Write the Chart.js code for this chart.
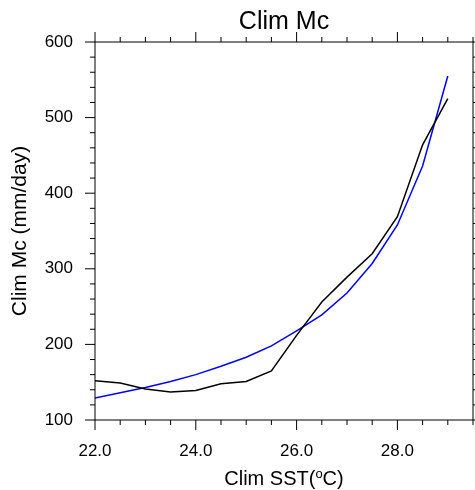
<!DOCTYPE html>
<html>
<head>
<meta charset="utf-8">
<title>Clim Mc</title>
<script src="https://cdn.jsdelivr.net/npm/chart.js@4.4.1/dist/chart.umd.min.js"></script>
<style>
  body { margin: 0; background: #fff; }
  canvas { display: block; }
</style>
</head>
<body>
<canvas id="mcChart" width="475" height="490"></canvas>
<script>
// SST bins (deg C)
const sst = [22.0, 22.5, 23.0, 23.5, 24.0, 24.5, 25.0, 25.5, 26.0, 26.5, 27.0, 27.5, 28.0, 28.5, 29.0];
// black line: binned Mc
const mcBinned = [152, 149, 141, 137, 139, 148, 151, 165, 212, 256, 289, 320, 369, 464, 525];
// blue line: fitted curve
const mcFit = [129, 136, 143, 151, 160, 171, 183, 198, 218, 239, 268, 307, 358, 436, 555];

const xMajor = [22, 24, 26, 28];
const yMajor = [100, 200, 300, 400, 500, 600];

const fontFamily = "'Liberation Sans', Helvetica, Arial, sans-serif";

function toPoints(ys) {
  return sst.map(function (x, i) { return { x: x, y: ys[i] }; });
}

// NCL style frame with outward major/minor tick marks on all 4 sides,
// plus the title and the x axis title (which has a superscript "o")
const frameTicks = {
  id: 'frameTicks',
  afterDraw: function (chart) {
    const ctx = chart.ctx;
    const a = chart.chartArea;
    const xs = chart.scales.x;
    const ys = chart.scales.y;
    const cx = (a.left + a.right) / 2;
    ctx.save();
    ctx.strokeStyle = '#000';
    ctx.lineWidth = 1;
    ctx.strokeRect(a.left, a.top, a.right - a.left, a.bottom - a.top);
    ctx.beginPath();
    for (let v = 22; v <= 29.5 + 1e-6; v += 0.5) {
      const len = xMajor.indexOf(v) >= 0 ? 10 : 5;
      const px = xs.getPixelForValue(v);
      ctx.moveTo(px, a.bottom); ctx.lineTo(px, a.bottom + len);
      ctx.moveTo(px, a.top); ctx.lineTo(px, a.top - len);
    }
    for (let v = 100; v <= 600; v += 20) {
      const len = yMajor.indexOf(v) >= 0 ? 10 : 5;
      const py = ys.getPixelForValue(v);
      ctx.moveTo(a.left, py); ctx.lineTo(a.left - len, py);
      ctx.moveTo(a.right, py); ctx.lineTo(a.right + len, py);
    }
    ctx.stroke();

    // title
    ctx.fillStyle = '#000';
    ctx.textAlign = 'center';
    ctx.textBaseline = 'alphabetic';
    ctx.font = '25px ' + fontFamily;
    ctx.fillText('Clim Mc', cx, 28.5);

    // x axis title: Clim SST(oC) with raised o
    const big = '20px ' + fontFamily;
    const small = '13px ' + fontFamily;
    const p1 = 'Clim SST(', p2 = 'o', p3 = 'C)';
    ctx.font = big;
    const w1 = ctx.measureText(p1).width, w3 = ctx.measureText(p3).width;
    ctx.font = small;
    const w2 = ctx.measureText(p2).width;
    let x0 = cx - (w1 + w2 + w3) / 2;
    const base = a.bottom + 64.5;
    ctx.textAlign = 'left';
    ctx.font = big;
    ctx.fillText(p1, x0, base);
    ctx.font = small;
    ctx.fillText(p2, x0 + w1, base - 6.5);
    ctx.font = big;
    ctx.fillText(p3, x0 + w1 + w2, base);
    ctx.restore();
  }
};

new Chart(document.getElementById('mcChart'), {
  type: 'line',
  data: {
    datasets: [
      {
        data: toPoints(mcBinned),
        borderColor: '#000000',
        borderWidth: 1.5,
        pointRadius: 0,
        tension: 0
      },
      {
        data: toPoints(mcFit),
        borderColor: '#0000ff',
        borderWidth: 1.5,
        pointRadius: 0,
        tension: 0
      }
    ]
  },
  options: {
    responsive: false,
    animation: false,
    layout: { padding: { left: 0, right: 2, top: 42, bottom: 0 } },
    plugins: {
      legend: { display: false },
      tooltip: { enabled: false },
      title: { display: false }
    },
    scales: {
      x: {
        type: 'linear',
        min: 22,
        max: 29.5,
        afterFit: function (scale) { scale.height = 70; },
        border: { display: false },
        grid: { display: true, drawOnChartArea: false, drawTicks: false },
        ticks: {
          stepSize: 2,
          includeBounds: false,
          padding: 21,
          color: '#000',
          font: { family: fontFamily, size: 17 },
          callback: function (v) { return v.toFixed(1); }
        }
      },
      y: {
        min: 100,
        max: 600,
        afterFit: function (scale) { scale.width = 95; },
        border: { display: false },
        grid: { display: true, drawOnChartArea: false, drawTicks: false },
        ticks: {
          stepSize: 100,
          padding: 22,
          color: '#000',
          font: { family: fontFamily, size: 17 }
        },
        title: {
          display: true,
          text: 'Clim Mc (mm/day)',
          color: '#000',
          font: { family: fontFamily, size: 21 },
          padding: { top: 7.5, bottom: 0 }
        }
      }
    }
  },
  plugins: [frameTicks]
});
</script>
</body>
</html>
